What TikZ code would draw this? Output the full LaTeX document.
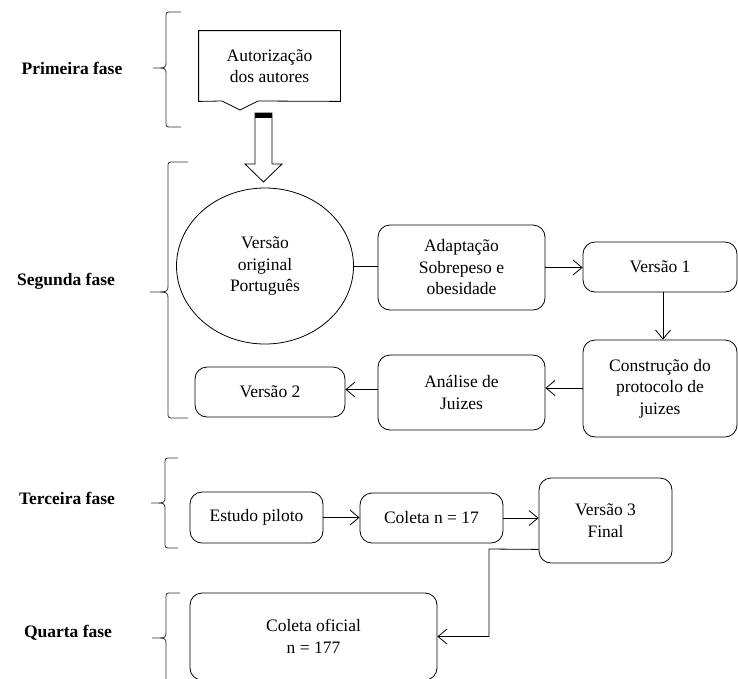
\documentclass[tikz,border=0pt]{standalone}
\usepackage{fontspec}
\setmainfont{Liberation Serif}
\usetikzlibrary{arrows.meta,shapes.geometric,calc}
\newcommand{\fs}{\fontsize{17.5}{21.5}\selectfont}
\newcommand{\fb}{\fontsize{17.5}{21.5}\selectfont\bfseries}
\begin{document}
\begin{tikzpicture}[x=1pt,y=-1pt,
  line width=0.8pt,
  box/.style={draw, rounded corners=12pt, align=center, font=\fs, inner sep=0pt},
  lbl/.style={font=\fb, align=center},
  arr/.style={-{Straight Barb[length=9pt,width=15pt]}},
  brc/.style={draw=black!80, line width=0.8pt}
]
\useasboundingbox (0,0) rectangle (738,678);

% phase labels
\node[lbl] (p1) at (72,68) {Primeira fase};
\node[lbl] (p2) at (66,281) {Segunda fase};
\node[lbl] (p3) at (67,498) {Terceira fase};
\node[lbl] (p4) at (68,633) {Quarta fase};

% braces
\draw[brc] (181,12) -- (172,12) .. controls (166,12) .. (166,18) -- (166,62) .. controls (166,68) .. (153,68) .. controls (166,68) .. (166,74) -- (166,121) .. controls (166,127) .. (172,127) -- (181,127);
\draw[brc] (188,162) -- (174,162) .. controls (168,162) .. (168,168) -- (168,286) .. controls (168,292) .. (150,292) .. controls (168,292) .. (168,298) -- (168,412) .. controls (168,418) .. (174,418) -- (188,418);
\draw[brc] (178,458) -- (171,458) .. controls (165,458) .. (165,464) -- (165,497) .. controls (165,503) .. (151,503) .. controls (165,503) .. (165,509) -- (165,542) .. controls (165,548) .. (171,548) -- (178,548);
\draw[brc] (180,593) -- (172,593) .. controls (166,593) .. (166,599) -- (166,632) .. controls (166,638) .. (152,638) .. controls (166,638) .. (166,644) -- (166,700);

% callout
\node[align=center, font=\fs, minimum width=141, minimum height=70, inner sep=0pt] (auth) at (269.5,66) {Autorização\\dos autores};
\draw (auth.north west) -- (auth.north east) -- (auth.south east) -- (258,101) -- (240,110) -- (222,101) -- (auth.south west) -- cycle;

% block arrow
\draw (255,113) -- (272,113) -- (272,164) -- (282,164) -- (263.5,182) -- (245,164) -- (255,164) -- cycle;
\fill (255,113) rectangle (272,117.5);

% second phase
\node[draw, ellipse, minimum width=177, minimum height=156, align=center, font=\fs, inner sep=0pt] (ell) at (265,266) {Versão\\original\\Português};
\node[box, minimum width=167, minimum height=85] (adapt) at (461.5,267.5) {Adaptação\\Sobrepeso e\\obesidade};
\node[box, minimum width=154, minimum height=50] (v1) at (660,267) {Versão 1};
\node[box, minimum width=154, minimum height=97] (constr) at (660,388.5) {Construção do\\protocolo de\\juizes};
\node[box, minimum width=167, minimum height=75] (analise) at (461.5,392.5) {Análise de\\Juizes};
\node[box, minimum width=150, minimum height=50] (v2) at (270,392) {Versão 2};

\draw (ell.east) -- (ell.east -| adapt.west);
\draw[arr] (adapt.east) -- (adapt.east -| v1.west);
\draw[arr] ($(v1.south)+(3,0)$) -- ($(constr.north)+(3,0)$);
\draw[arr] ($(constr.west)+(0,-0.5)$) -- ($(constr.west -| analise.east)+(0,-0.5)$);
\draw[arr] ($(analise.west)+(0,-3)$) -- ($(analise.west -| v2.east)+(0,-3)$);

% third phase
\node[box, minimum width=133, minimum height=51] (piloto) at (256.5,517.5) {Estudo piloto};
\node[box, minimum width=143, minimum height=50] (col17) at (431.5,518) {Coleta n = 17};
\node[box, minimum width=133, minimum height=85] (v3) at (605.5,520.5) {Versão 3\\Final};
\draw[arr] (piloto.east) -- (piloto.east -| col17.west);
\draw[arr] (col17.east) -- (col17.east -| v3.west);

% fourth phase
\node[box, minimum width=247, minimum height=87] (oficial) at (313.5,636.5) {Coleta oficial\\n = 177};
\coordinate (bend) at (489,549);
\draw[arr] ($(v3.south west)+(0,-14)$) -- (bend) |- (oficial.east);
\end{tikzpicture}
\end{document}
